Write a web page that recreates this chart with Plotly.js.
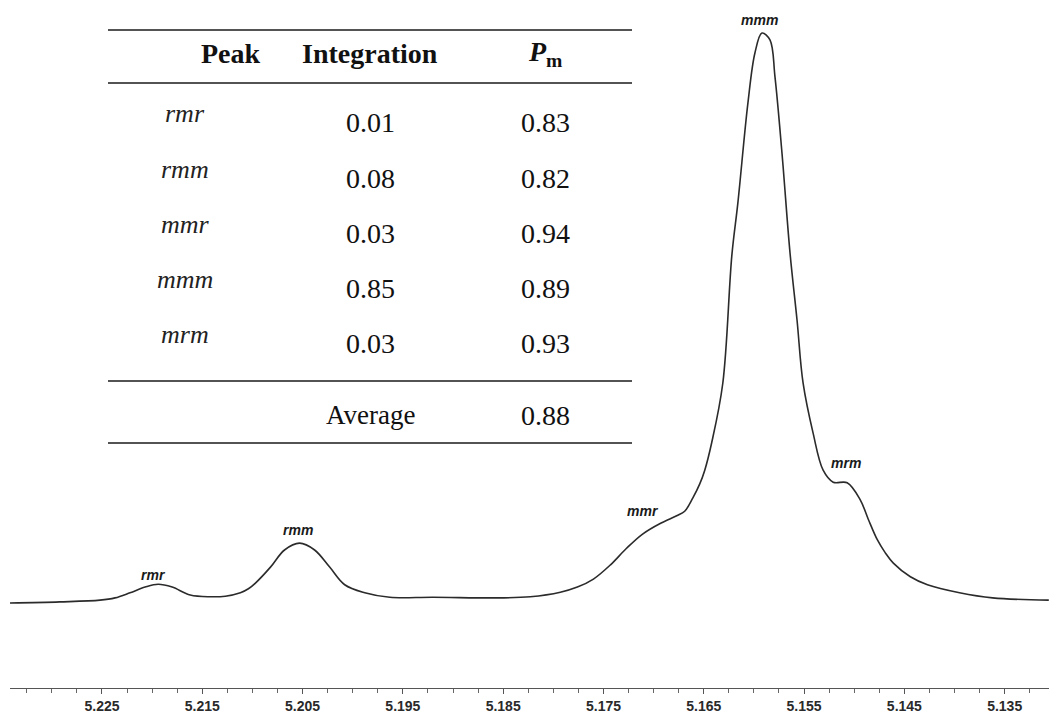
<!DOCTYPE html>
<html>
<head>
<meta charset="utf-8">
<script src="https://cdn.plot.ly/plotly-3.0.1.min.js"></script>
<style>
  html, body { margin: 0; padding: 0; background: #ffffff; }
  #chart { width: 1049px; height: 715px; }
</style>
</head>
<body>
<div id="chart"></div>
<script>
// 1H NMR methine region: chemical shift (ppm) and relative intensity
const shift = [
  5.2342, 5.2292, 5.2252, 5.2237, 5.2222, 5.2207, 5.2194, 5.2180, 5.2162, 5.2142,
  5.2127, 5.2112, 5.2104, 5.2097, 5.2082, 5.2068, 5.2053, 5.2038, 5.2023, 5.2008,
  5.1988, 5.1963, 5.1920, 5.1853, 5.1823, 5.1793, 5.1776, 5.1760, 5.1743, 5.1727,
  5.1711, 5.1693, 5.1677, 5.1669, 5.1661, 5.1654, 5.1649, 5.1642, 5.1631, 5.1622,
  5.1616, 5.1606, 5.1599, 5.1592, 5.1584, 5.1579, 5.1572, 5.1564, 5.1557, 5.1551,
  5.1541, 5.1531, 5.1521, 5.1507, 5.1494, 5.1486, 5.1477, 5.1469, 5.1461, 5.1444,
  5.1427, 5.1395, 5.1362, 5.1306
];
const intensity = [
  0.0, 0.2, 0.5, 0.9, 1.8, 2.8, 3.3, 2.8, 1.4, 1.1,
  1.2, 1.8, 2.5, 3.5, 6.3, 9.3, 10.5, 9.3, 6.3, 3.2,
  1.8, 1.0, 1.0, 0.9, 1.1, 1.9, 2.8, 4.2, 6.7, 9.6,
  12.1, 14.0, 15.3, 16.1, 18.4, 20.9, 23.3, 28.2, 38.6, 61.0,
  70.2, 87.7, 96.5, 100.0, 98.8, 92.3, 78.9, 61.4, 49.6, 38.6,
  29.8, 23.3, 21.2, 21.1, 18.1, 14.7, 11.1, 8.8, 7.0, 4.6,
  3.2, 1.8, 0.9, 0.5
];

// triad peak labels: name, shift (ppm), label height
const peakNames = ['rmr', 'rmm', 'mmr', 'mmm', 'mrm'];
const peakShift = [5.2199, 5.2055, 5.1711, 5.1594, 5.1508];
const peakLabelY = [4.9, 12.8, 16.1, 102.3, 24.6];

// table contents
const tableHeader = ['Peak', 'Integration', '<i>P</i><sub>m</sub>'];
const tablePeaks = ['rmr', 'rmm', 'mmr', 'mmm', 'mrm'];
const tableIntegration = ['0.01', '0.08', '0.03', '0.85', '0.03'];
const tablePm = ['0.83', '0.82', '0.94', '0.89', '0.93'];
const averageLabel = 'Average';
const averagePm = '0.88';

// figure geometry (pixels)
const W = 1049, H = 715;
const M = {l: 10, r: 0, t: 0, b: 27};
const plotW = W - M.l - M.r, plotH = H - M.t - M.b;
const px = x => (x - M.l) / plotW;
const py = y => (H - M.b - y) / plotH;

const trace = {
  x: shift,
  y: intensity,
  type: 'scatter',
  mode: 'lines',
  line: {color: '#2b2b2b', width: 1.6, shape: 'spline', smoothing: 1.0},
  hoverinfo: 'x+y',
  showlegend: false
};

const annotations = [];
const shapes = [];

// peak labels above each resonance
peakNames.forEach((n, i) => {
  annotations.push({
    x: peakShift[i], y: peakLabelY[i], xref: 'x', yref: 'y',
    text: '<b><i>' + n + '</i></b>', showarrow: false,
    font: {family: 'Liberation Sans, Arial, sans-serif', size: 14, color: '#1a1a1a'},
    xanchor: 'center', yanchor: 'middle'
  });
});

// table rules
const ruleX0 = 108, ruleX1 = 632;
[30, 83, 381, 443].forEach(y => {
  shapes.push({
    type: 'line', xref: 'paper', yref: 'paper',
    x0: px(ruleX0), x1: px(ruleX1), y0: py(y), y1: py(y),
    line: {color: '#1a1a1a', width: 1.3}
  });
});

const colX = [231, 370, 545];
const serif = 'Liberation Serif, Times New Roman, serif';
function cell(text, x, y, size, color) {
  annotations.push({
    x: px(x), y: py(y), xref: 'paper', yref: 'paper',
    text: text, showarrow: false,
    font: {family: serif, size: size, color: color || '#111111'},
    xanchor: 'center', yanchor: 'middle'
  });
}

// header
tableHeader.forEach((h, i) => cell('<b>' + h + '</b>', colX[i], 53, 28));

// body rows
const rowY0 = 123, rowStep = 55.2;
tablePeaks.forEach((p, i) => {
  const y = rowY0 + i * rowStep;
  cell('<i>' + p + '</i>', 185, y - 9, 26, '#222222');
  cell(tableIntegration[i], colX[1], y, 28);
  cell(tablePm[i], colX[2], y, 28);
});
cell(averageLabel, colX[1], 415, 27);
cell(averagePm, colX[2], 415, 28);

const layout = {
  width: W, height: H,
  margin: M,
  paper_bgcolor: '#ffffff',
  plot_bgcolor: '#ffffff',
  xaxis: {
    range: [5.23417, 5.13058],
    tick0: 5.225, dtick: 0.01,
    tickformat: '.3f',
    ticks: 'outside', ticklen: 5, tickwidth: 1, tickcolor: '#555555',
    showline: true, linecolor: '#555555', linewidth: 1.2,
    showgrid: false, zeroline: false,
    tickfont: {family: 'Liberation Sans, Arial, sans-serif', size: 14, color: '#2a2a2a', weight: 'bold'},
    minor: {dtick: 0.0025, tick0: 5.225, ticks: 'outside', ticklen: 4, tickcolor: '#666666', showgrid: false}
  },
  yaxis: {
    range: [-14.91, 105.79],
    visible: false, showgrid: false, zeroline: false
  },
  shapes: shapes,
  annotations: annotations
};

Plotly.newPlot('chart', [trace], layout, {displayModeBar: false, staticPlot: true});
</script>
</body>
</html>
